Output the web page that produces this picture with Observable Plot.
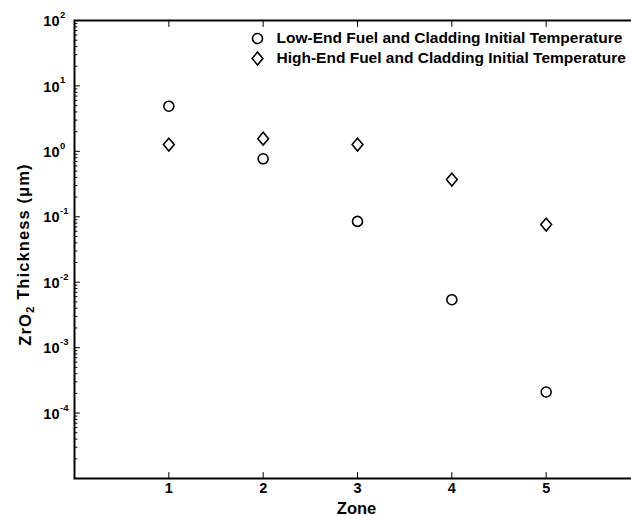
<!DOCTYPE html>
<html><head><meta charset="utf-8">
<script src="https://cdn.jsdelivr.net/npm/d3@7"></script>
<script src="https://cdn.jsdelivr.net/npm/@observablehq/plot@0.6"></script>
<style>
html,body{margin:0;padding:0;background:#fff;overflow:hidden}
#chart{width:631px;height:516px;overflow:hidden}
#chart svg{display:block;max-width:none !important;width:640px !important;height:516px !important}
</style>
</head><body><div id="chart"></div>
<script>
// ---- data ----
const zones = [1, 2, 3, 4, 5];
const lowEnd = [4.9, 0.77, 0.085, 0.0054, 0.00021];
const highEnd = [1.27, 1.56, 1.27, 0.37, 0.076];
const seriesNames = ["Low-End Fuel and Cladding Initial Temperature", "High-End Fuel and Cladding Initial Temperature"];
const xTicks = [1, 2, 3, 4, 5];
const yExponents = [-4, -3, -2, -1, 0, 1, 2];
const yDomain = [1e-5, 1e2];
const xDomain = [0, 6];
const xLabel = "Zone";
const yLabel = "ZrO2 Thickness (μm)";

// ---- derived tables ----
const lowRows = zones.map((z, i) => ({zone: z, value: lowEnd[i]}));
const highRows = zones.map((z, i) => ({zone: z, value: highEnd[i]}));
const majorY = yExponents.map(e => Math.pow(10, e));
const minorY = [];
for (let e = -5; e < 2; e++) for (let k = 2; k <= 9; k++) minorY.push(k * Math.pow(10, e));

const font = "'Liberation Sans', Arial, Helvetica, sans-serif";

const diamond = {
  draw(context, size) {
    const r = Math.sqrt(size / Math.PI);
    const w = r * 1.08, h = r * 1.28;
    context.moveTo(0, -h);
    context.lineTo(w, 0);
    context.lineTo(0, h);
    context.lineTo(-w, 0);
    context.closePath();
  }
};
const tickShape = {
  draw(context, l) { context.moveTo(0, 0); context.lineTo(0, -l); }
};

const plot = Plot.plot({
  width: 640,
  height: 516,
  marginLeft: 74,
  marginRight: 0,
  marginTop: 20,
  marginBottom: 38,
  style: {fontFamily: font, background: "#fff", color: "#000", maxWidth: "none"},
  x: {domain: xDomain, axis: null},
  y: {type: "log", domain: yDomain, axis: null},
  marks: [
    // inward ticks
    Plot.vector(majorY, {y: d => d, frameAnchor: "left", length: 5, rotate: 90, anchor: "start", shape: tickShape, stroke: "#000", strokeWidth: 1}),
    Plot.vector(minorY, {y: d => d, frameAnchor: "left", length: 2.5, rotate: 90, anchor: "start", shape: tickShape, stroke: "#000", strokeWidth: 1}),
    Plot.vector(xTicks, {x: d => d, frameAnchor: "bottom", length: 6, rotate: 0, anchor: "start", shape: tickShape, stroke: "#000", strokeWidth: 1}),
    Plot.vector(xTicks, {x: d => d, frameAnchor: "top", length: 6, rotate: 180, anchor: "start", shape: tickShape, stroke: "#000", strokeWidth: 1}),
    Plot.frame({stroke: "#000", strokeWidth: 2}),
    // y tick labels: 10 + superscript exponent
    Plot.text(yExponents, {y: e => Math.pow(10, e), text: () => "10", frameAnchor: "left", dx: -15, dy: 1, textAnchor: "end", lineAnchor: "middle", fontSize: 14.5, fontWeight: "bold", fill: "#000"}),
    Plot.text(yExponents, {y: e => Math.pow(10, e), text: e => e < 0 ? "-" + Math.abs(e) : String(e), frameAnchor: "left", dx: -14.5, dy: -5.5, textAnchor: "start", lineAnchor: "middle", fontSize: 9.5, fontWeight: "bold", fill: "#000"}),
    // x tick labels
    Plot.text(xTicks, {x: d => d, text: d => String(d), frameAnchor: "bottom", dy: 10, lineAnchor: "middle", fontSize: 14.5, fontWeight: "bold", fill: "#000"}),
    // axis titles
    Plot.text([xLabel], {text: d => d, frameAnchor: "bottom", dy: 35, dx: -1, lineAnchor: "bottom", fontSize: 16.5, fontWeight: "bold", fill: "#000"}),
    Plot.text([yLabel], {text: d => d, frameAnchor: "left", dx: -49, dy: 5, rotate: -90, textAnchor: "middle", lineAnchor: "middle", fontSize: 16.5, fontWeight: "bold", fill: "#000", className: "ylabel"}),
    // data
    Plot.dot(lowRows, {x: "zone", y: "value", symbol: "circle", r: 5, stroke: "#000", strokeWidth: 1.6, fill: "none"}),
    Plot.dot(highRows, {x: "zone", y: "value", symbol: diamond, r: 5, stroke: "#000", strokeWidth: 1.6, fill: "none"}),
    // legend
    Plot.dot([seriesNames[0]], {frameAnchor: "top-left", dx: 183, dy: 18, symbol: "circle", r: 5, stroke: "#000", strokeWidth: 1.6, fill: "none"}),
    Plot.dot([seriesNames[1]], {frameAnchor: "top-left", dx: 183, dy: 38, symbol: diamond, r: 5, stroke: "#000", strokeWidth: 1.6, fill: "none"}),
    Plot.text([seriesNames[0]], {text: d => d, frameAnchor: "top-left", dx: 202, dy: 18, textAnchor: "start", lineAnchor: "middle", fontSize: 15.5, fontWeight: "bold", fill: "#000"}),
    Plot.text([seriesNames[1]], {text: d => d, frameAnchor: "top-left", dx: 202, dy: 38, textAnchor: "start", lineAnchor: "middle", fontSize: 15.5, fontWeight: "bold", fill: "#000"})
  ]
});
document.getElementById("chart").appendChild(plot);

// subscript "2" in ZrO2
d3.select(plot).selectAll(".ylabel text").each(function() {
  const t = d3.select(this);
  t.text(null).attr("text-anchor", "middle").attr("letter-spacing", "1.1px");
  t.append("tspan").text("ZrO");
  t.append("tspan").attr("dy", "0.3em").attr("font-size", "11.5px").text("2");
  t.append("tspan").attr("dy", "-0.3em").text(" Thickness (μm)");
});
</script>
</body></html>
